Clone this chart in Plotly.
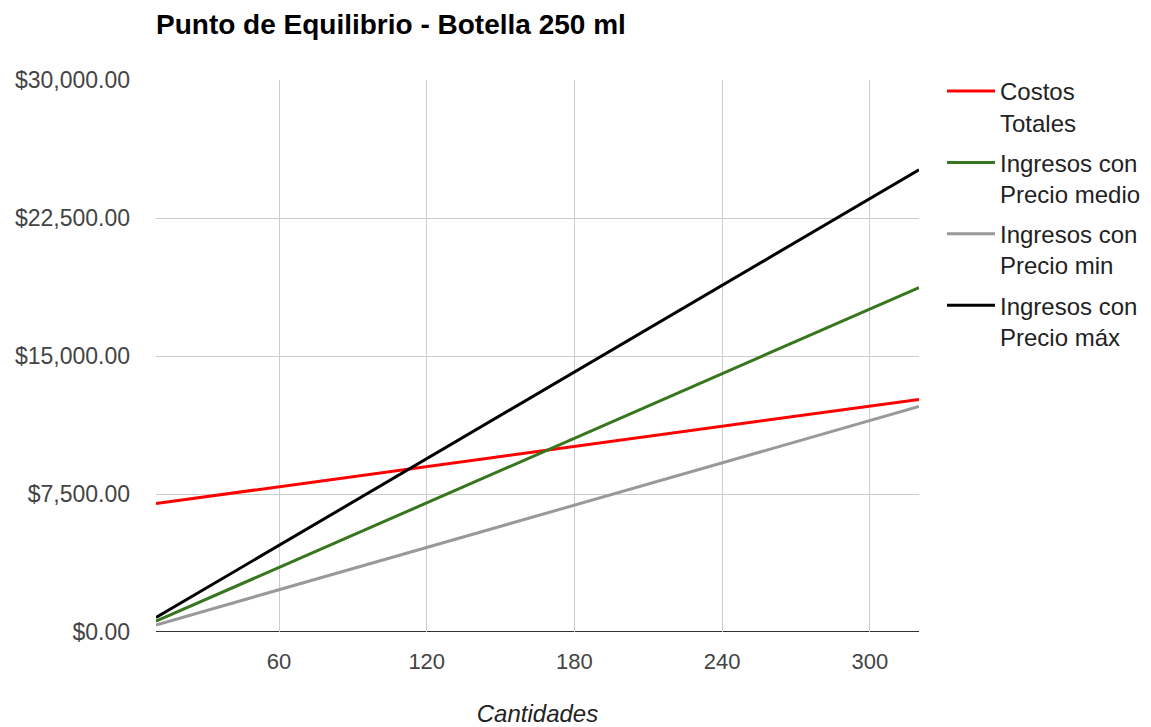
import plotly.graph_objects as go

# Quantities sold (units)
cantidades = [10, 40, 80, 120, 160, 200, 240, 280, 320]

# Total costs and revenues at each price level (USD)
costos_totales = [6983, 7530, 8260, 8990, 9720, 10450, 11180, 11910, 12640]
ingresos_medio = [585, 2340, 4680, 7020, 9360, 11700, 14040, 16380, 18720]
ingresos_min = [383, 1532, 3064, 4596, 6128, 7660, 9192, 10724, 12256]
ingresos_max = [785, 3140, 6280, 9420, 12560, 15700, 18840, 21980, 25120]

series = [
    ("Costos<br>Totales", costos_totales, "#ff0000"),
    ("Ingresos con<br>Precio medio", ingresos_medio, "#38761d"),
    ("Ingresos con<br>Precio min", ingresos_min, "#999999"),
    ("Ingresos con<br>Precio máx", ingresos_max, "#000000"),
]

y_ticks = [0, 7500, 15000, 22500, 30000]
x_ticks = [60, 120, 180, 240, 300]

fig = go.Figure()
for i, (name, vals, color) in enumerate(series):
    fig.add_trace(go.Scatter(
        x=cantidades, y=vals, name=name, mode="lines",
        line=dict(color=color, width=3),
        legendgroup=f"g{i}",
    ))

font_family = "Liberation Sans, Arial, sans-serif"

fig.update_layout(
    width=1151, height=727,
    margin=dict(l=156, r=232, t=80, b=95, autoexpand=False),
    paper_bgcolor="white", plot_bgcolor="white",
    font=dict(family=font_family, size=22, color="#444444"),
    title=dict(
        text="<b>Punto de Equilibrio - Botella 250 ml</b>",
        x=156 / 1151, xanchor="left", y=1 - 24 / 727, yanchor="middle",
        font=dict(family=font_family, size=28, color="#000000"),
    ),
    showlegend=True,
    legend=dict(
        x=(942 - 156) / 763, xanchor="left", y=1.02, yanchor="top",
        font=dict(family=font_family, size=24, color="#222222"),
        valign="top", tracegroupgap=6, traceorder="grouped",
        itemwidth=48,
        bgcolor="rgba(0,0,0,0)",
    ),
    xaxis=dict(
        range=[10, 320], tickvals=x_ticks, ticktext=[str(v) for v in x_ticks],
        showgrid=True, gridcolor="#cccccc", gridwidth=1,
        zeroline=False, showline=False, ticks="", automargin=False,
        ticklabelstandoff=14,
        title=dict(text="<i>Cantidades</i>", standoff=34,
                   font=dict(family=font_family, size=24, color="#222222")),
        tickfont=dict(size=22, color="#444444"),
    ),
    yaxis=dict(
        range=[0, 30000], tickvals=y_ticks,
        ticktext=[f"${v:,.2f}" for v in y_ticks],
        showgrid=True, gridcolor="#cccccc", gridwidth=1,
        zeroline=False, showline=False, ticks="", automargin=False,
        ticklabelstandoff=25,
        tickfont=dict(size=23, color="#444444"),
    ),
)

# Baseline along the bottom of the plot
fig.add_shape(type="line", xref="paper", yref="y", x0=0, x1=1, y0=0, y1=0,
              line=dict(color="#333333", width=2), layer="below")

fig.write_html("out.html")
